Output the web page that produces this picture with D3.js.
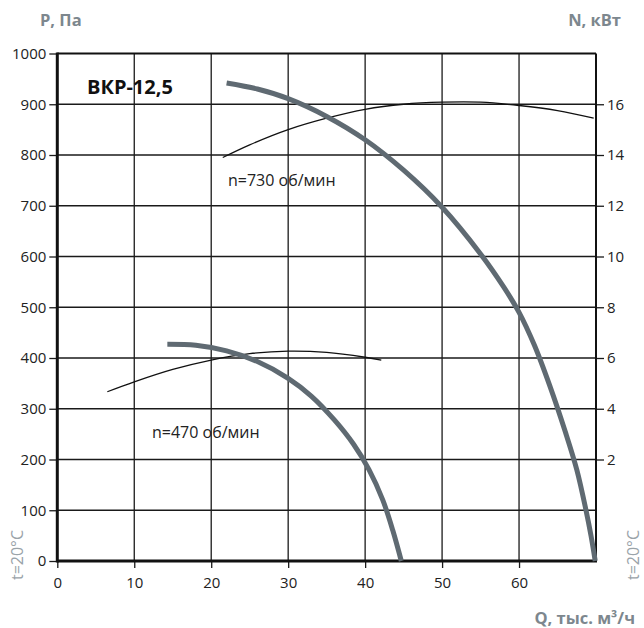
<!DOCTYPE html>
<html>
<head>
<meta charset="utf-8">
<script src="https://cdn.jsdelivr.net/npm/d3@7"></script>
<style>
  body { margin: 0; background: #fff; }
  svg text { font-family: "Open Sans", sans-serif; }
</style>
</head>
<body>
<svg id="chart" width="644" height="628"></svg>
<script>
// ticks
const qTicks = [0, 10, 20, 30, 40, 50, 60]
const pTicks = [0, 100, 200, 300, 400, 500, 600, 700, 800, 900, 1000]
const nTicks = [2, 4, 6, 8, 10, 12, 14, 16]

// pressure curves, P (Pa) against Q (thous. m3/h)
const q730 = [22, 26, 30, 35, 40, 45, 50, 55, 58, 60, 62, 64, 66, 67.5, 68.7, 69.35, 69.9]
const p730 = [942, 930, 911, 876, 830, 770, 697, 605, 540, 490, 425, 345, 255, 180, 100, 50, 0]
const q470 = [14.3, 18, 22, 26, 30, 33, 36, 38.5, 40.5, 42.3, 43.6, 44.7]
const p470 = [427, 425, 414, 393, 360, 325, 278, 230, 180, 120, 60, 0]

// power curves, N (kW)
const qN730 = [21.5, 25, 30, 35, 40, 45, 50, 55, 60, 65, 69.7]
const n730 = [13.9, 14.4, 15.0, 15.45, 15.8, 16.0, 16.08, 16.08, 15.95, 15.75, 15.45]
const qN470 = [6.5, 10, 15, 20, 25, 30, 35, 40, 42.1]
const n470 = [4.67, 5.06, 5.55, 5.92, 6.17, 6.27, 6.22, 6.03, 5.92]

const svg = d3.select('#chart')

const plotLeft = 57.3, plotRight = 596, plotTop = 53.5, plotBottom = 561

const x = d3.scaleLinear().domain([0, 70]).range([plotLeft, plotRight])
const y = d3.scaleLinear().domain([0, 1000]).range([plotBottom, plotTop])
// N axis: 2 kW per 100 Pa, N = 0 at P = 100
const yN = d3.scaleLinear().domain([0, 16]).range([y(100), y(900)])

const gridColor = '#1a1a1a'
const labelGrey = '#7d878e'

// grid
svg.append('g').selectAll('line')
    .data(qTicks.slice(1))
    .enter()
    .append('line')
    .attr('x1', d => x(d)).attr('x2', d => x(d))
    .attr('y1', plotTop).attr('y2', plotBottom)
    .attr('stroke', gridColor).attr('stroke-width', 1.3)

svg.append('g').selectAll('line')
    .data(pTicks.slice(1, -1))
    .enter()
    .append('line')
    .attr('x1', plotLeft).attr('x2', plotRight)
    .attr('y1', d => y(d)).attr('y2', d => y(d))
    .attr('stroke', gridColor).attr('stroke-width', 1.3)

// axes
const styleAxis = (g) => {
    g.select('.domain').remove()
    g.selectAll('.tick line').attr('stroke', gridColor).attr('stroke-width', 1.3)
    g.selectAll('.tick text').attr('fill', '#222').style('font-size', '15px')
}

svg.append('g')
    .attr('transform', `translate(${plotLeft},0)`)
    .call(d3.axisLeft(y).tickValues(pTicks).tickFormat(d3.format('d')).tickSize(8).tickPadding(3))
    .call(styleAxis)

svg.append('g')
    .attr('transform', `translate(0,${plotBottom})`)
    .call(d3.axisBottom(x).tickValues(qTicks).tickFormat(d3.format('d')).tickSize(7).tickPadding(9))
    .call(styleAxis)

svg.append('g')
    .attr('transform', `translate(${plotRight},0)`)
    .call(d3.axisRight(yN).tickValues(nTicks).tickFormat(d3.format('d')).tickSize(8).tickPadding(3))
    .call(styleAxis)

// frame
svg.append('line').attr('x1', plotLeft).attr('x2', plotRight).attr('y1', plotTop).attr('y2', plotTop)
    .attr('stroke', '#111').attr('stroke-width', 2)
svg.append('line').attr('x1', plotRight).attr('x2', plotRight).attr('y1', plotTop).attr('y2', plotBottom)
    .attr('stroke', '#111').attr('stroke-width', 2)
svg.append('line').attr('x1', plotLeft).attr('x2', plotLeft).attr('y1', plotTop - 1).attr('y2', plotBottom + 1.5)
    .attr('stroke', '#111').attr('stroke-width', 3)
svg.append('line').attr('x1', plotLeft).attr('x2', plotRight + 1).attr('y1', plotBottom).attr('y2', plotBottom)
    .attr('stroke', '#111').attr('stroke-width', 3)

// curves
const lineP = d3.line().x(d => x(d[0])).y(d => y(d[1])).curve(d3.curveCatmullRom.alpha(0.5))
const lineN = d3.line().x(d => x(d[0])).y(d => yN(d[1])).curve(d3.curveCatmullRom.alpha(0.5))

svg.append('path')
    .datum(d3.zip(qN730, n730))
    .attr('d', lineN).attr('fill', 'none').attr('stroke', '#111').attr('stroke-width', 1.3)
svg.append('path')
    .datum(d3.zip(qN470, n470))
    .attr('d', lineN).attr('fill', 'none').attr('stroke', '#111').attr('stroke-width', 1.3)

svg.append('path')
    .datum(d3.zip(q730, p730))
    .attr('d', lineP).attr('fill', 'none').attr('stroke', '#5f6a72').attr('stroke-width', 5)
svg.append('path')
    .datum(d3.zip(q470, p470))
    .attr('d', lineP).attr('fill', 'none').attr('stroke', '#5f6a72').attr('stroke-width', 5)

// texts
svg.append('text').attr('x', 40).attr('y', 26)
    .attr('fill', labelGrey).style('font-size', '16.5px').style('font-weight', 'bold')
    .text('P, Па')
svg.append('text').attr('x', 621).attr('y', 26).attr('text-anchor', 'end')
    .attr('fill', labelGrey).style('font-size', '16.5px').style('font-weight', 'bold')
    .text('N, кВт')
svg.append('text').attr('x', 635).attr('y', 624).attr('text-anchor', 'end')
    .attr('fill', labelGrey).style('font-size', '16.5px').style('font-weight', 'bold')
    .text('Q, тыс. м³/ч')

svg.append('text').attr('x', 87).attr('y', 94)
    .attr('fill', '#111').style('font-size', '20px').style('font-weight', 'bold')
    .text('ВКР-12,5')

svg.append('text').attr('x', 228).attr('y', 186)
    .attr('fill', '#222').style('font-size', '16px')
    .text('n=730 об/мин')
svg.append('text').attr('x', 152).attr('y', 438)
    .attr('fill', '#222').style('font-size', '16px')
    .text('n=470 об/мин')

svg.append('text')
    .attr('transform', 'translate(22.5,555) rotate(-90)').attr('text-anchor', 'middle')
    .attr('fill', '#9aa3a9').style('font-size', '16px')
    .text('t=20°C')
svg.append('text')
    .attr('transform', 'translate(639,555) rotate(-90)').attr('text-anchor', 'middle')
    .attr('fill', '#9aa3a9').style('font-size', '16px')
    .text('t=20°C')
</script>
</body>
</html>
